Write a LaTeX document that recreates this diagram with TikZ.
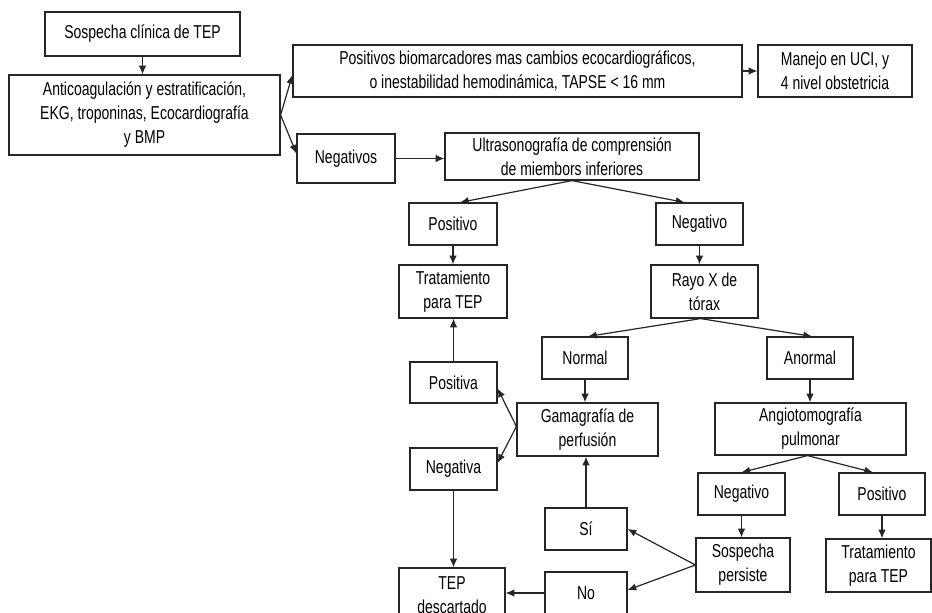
\documentclass[tikz,border=0pt]{standalone}
\usepackage{fontspec}
\setmainfont{Liberation Sans}[FakeStretch=0.75]
\usetikzlibrary{arrows.meta,calc}
\newcommand\mybox[6]{\node[box,minimum width={(#4-#2)*0.75pt},minimum height={(#5-#3)*0.75pt}] (#1) at ({(#2+#4)/2},{(#3+#5)/2}) {#6};}
\begin{document}
\begin{tikzpicture}[x=0.75pt,y=-0.75pt,
  box/.style={draw=black!85, line width=0.9pt, inner sep=0pt, align=center, font=\fontsize{14}{18}\selectfont, text=black},
  arr/.style={draw=black!85, line width=0.9pt, -{Latex[length=6.5pt,width=5.5pt]}}]
\fill[white] (0,0) rectangle (932,613);
\useasboundingbox (0,0) rectangle (932,613);
\mybox{s1}{45}{12}{240}{56}{Sospecha clínica de TEP}
\mybox{s2}{9}{75}{280}{155}{Anticoagulación y estratificación,\\EKG, troponinas, Ecocardiografía\\y BMP}
\mybox{pb}{293}{45}{742}{97}{Positivos biomarcadores mas cambios ecocardiográficos,\\o inestabilidad hemodinámica, TAPSE < 16 mm}
\mybox{uci}{758}{45}{912}{97}{Manejo en UCI, y\\4 nivel obstetricia}
\mybox{neg}{297}{134}{395}{183}{Negativos}
\mybox{us}{445}{133}{699}{180}{Ultrasonografía de comprensión\\de miembors inferiores}
\mybox{pos}{409}{203}{497}{245}{Positivo}
\mybox{negv}{656}{203}{743}{245}{Negativo}
\mybox{trat}{399}{265}{507}{318}{Tratamiento\\para TEP}
\mybox{rx}{651}{265}{758}{318}{Rayo X de\\tórax}
\mybox{nor}{542}{337}{628}{379}{Normal}
\mybox{anor}{767}{337}{853}{379}{Anormal}
\mybox{posa}{410}{362}{497}{403}{Positiva}
\mybox{gam}{517}{403}{658}{456}{Gamagrafía de\\perfusión}
\mybox{nega}{410}{448}{497}{490}{Negativa}
\mybox{angio}{715}{403}{906}{455}{Angiotomografía\\pulmonar}
\mybox{nego}{698}{473}{785}{515}{Negativo}
\mybox{poso}{839}{473}{925}{515}{Positivo}
\mybox{sosp}{696}{538}{790}{592}{Sospecha\\persiste}
\mybox{trat2}{826}{539}{931}{592}{Tratamiento\\para TEP}
\mybox{si}{545}{508}{627}{550}{Sí}
\mybox{no}{545}{572}{627}{614}{No}
\mybox{desc}{399}{568}{505}{622}{TEP\\descartado}
\draw[arr] (s1.south) -- (s1.south |- s2.north);
\draw[arr] (s2.east) -- ($(pb.west)+(0,4)$);
\draw[arr] (s2.east) -- ($(neg.west)+(0,-5)$);
\draw[arr] (pb) -- (uci);
\draw[arr] (neg.east) -- (neg.east -| us.west);
\draw[arr] (us.south) -- ($(pos.north)+(7,0)$);
\draw[arr] (us.south) -- ($(negv.north)+(-15,0)$);
\draw[arr] (pos.south) -- (pos.south |- trat.north);
\draw[arr] (negv.south) -- (negv.south |- rx.north);
\draw[arr] ($(rx.south)+(-4,0)$) -- ($(nor.north)+(3,0)$);
\draw[arr] ($(rx.south)+(-4,0)$) -- ($(anor.north)+(2,0)$);
\draw[arr] (nor.south) -- (nor.south |- gam.north);
\draw[arr] (anor.south) -- (anor.south |- angio.north);
\draw[arr] ($(gam.west)+(0,-3)$) -- ($(posa.east)+(0,6)$);
\draw[arr] ($(gam.west)+(0,-3)$) -- ($(nega.east)+(0,-6)$);
\draw[arr] (posa.north) -- (posa.north |- trat.south);
\draw[arr] (nega.south) -- (nega.south |- desc.north);
\draw[arr] ($(angio.south)+(-3,0)$) -- (nego.north);
\draw[arr] ($(angio.south)+(-3,0)$) -- ($(poso.north)+(-9,0)$);
\draw[arr] (nego.south) -- (nego.south |- sosp.north);
\draw[arr] (poso.south) -- (poso.south |- trat2.north);
\draw[arr] (sosp.west) -- (si.east);
\draw[arr] (sosp.west) -- ($(no.east)+(0,-3)$);
\draw[arr] (no.west) -- (no.west -| desc.east);
\draw[arr] (si.north) -- (si.north |- gam.south);
\end{tikzpicture}
\end{document}
